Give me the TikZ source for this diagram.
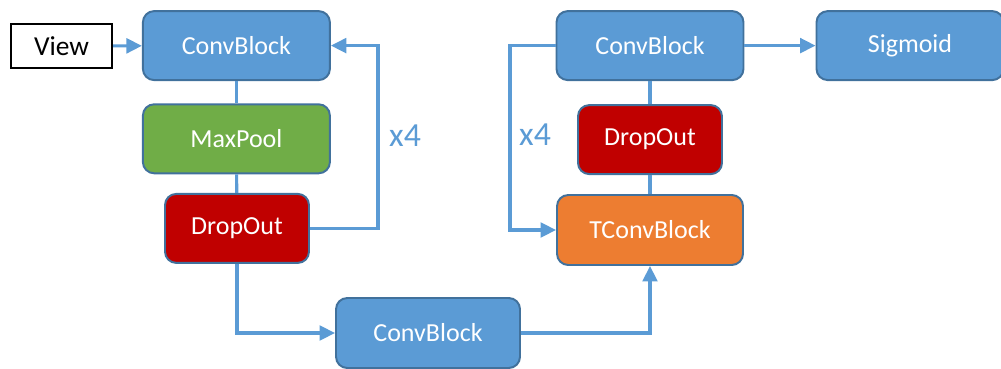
\documentclass[tikz,border=0pt]{standalone}
\usepackage{fontspec}
\setmainfont{Carlito}
\usepackage{xcolor}
\usepackage{tikz}
\usetikzlibrary{arrows.meta, positioning, calc}
\definecolor{nblue}{HTML}{5B9BD5}
\definecolor{nborder}{HTML}{41719C}
\definecolor{ngreen}{HTML}{70AD47}
\definecolor{nred}{HTML}{C00000}
\definecolor{norange}{HTML}{ED7D31}

\tikzset{
  block/.style={draw=nborder, line width=1.4pt, rounded corners=8pt, text=white,
    minimum width=4.675cm, minimum height=1.725cm, inner sep=0pt,
    font=\fontsize{18.5}{22}\selectfont},
  convblk/.style={block, fill=nblue},
  poolblk/.style={block, fill=ngreen},
  dropblk/.style={block, fill=nred, minimum width=3.6cm},
  tconvblk/.style={block, fill=norange},
  link/.style={draw=nblue, line width=2.2pt},
  flow/.style={link, -{Triangle[length=11pt, width=10.5pt]}},
  reps/.style={text=nblue, font=\fontsize{24}{28}\selectfont}
}

\begin{document}
\begin{tikzpicture}[x=1cm, y=1cm]

  \useasboundingbox (0,0) rectangle (25.025,9.2);

  %% Encoder
  \node[draw=black, line width=1.4pt, minimum width=2.525cm, minimum height=1.1cm, inner sep=0pt,
    font=\fontsize{19.5}{22}\selectfont] (view) at (1.54,8.05) {View};
  \node[convblk] (conv1) at (5.91,8.06) {ConvBlock};
  \node[poolblk] (pool1) at (5.91,5.73) {MaxPool};
  \node[dropblk] (drop1) at (5.925,3.49) {DropOut};

  %% Bottleneck
  \node[convblk, minimum width=4.6cm, minimum height=1.75cm] (conv2) at (10.7,0.875) {ConvBlock};

  %% Decoder
  \node[tconvblk, minimum width=4.65cm, minimum height=1.75cm] (tconv) at (16.25,3.45) {TConvBlock};
  \node[dropblk] (drop2) at (16.25,5.71) {DropOut};
  \node[convblk] (conv3) at (16.25,8.06) {ConvBlock};
  \node[convblk] (sigm) at (22.75,8.06) {Sigmoid};

  %% Loop turning points
  \coordinate (loopL) at (9.45,0);
  \coordinate (loopR) at (12.75,0);
  \node[reps] (repL) at (10.125,5.8) {x4};
  \node[reps] (repR) at (13.375,5.825) {x4};

  %% Connectors
  \draw[flow] (view) -- (conv1);
  \draw[link] (conv1) -- (pool1);
  \draw[link] (pool1) -- (drop1);
  \draw[flow] (drop1.east) -| (loopL |- conv1.east) -- (conv1.east);
  \draw[flow] (drop1.south) |- (conv2.west);
  \draw[flow] (conv2.east) -| (tconv.south);
  \draw[link] (tconv) -- (drop2);
  \draw[link] (drop2) -- (conv3);
  \draw[flow] (conv3.west) -| (loopR |- tconv.west) -- (tconv.west);
  \draw[flow] (conv3) -- (sigm);

\end{tikzpicture}
\end{document}
